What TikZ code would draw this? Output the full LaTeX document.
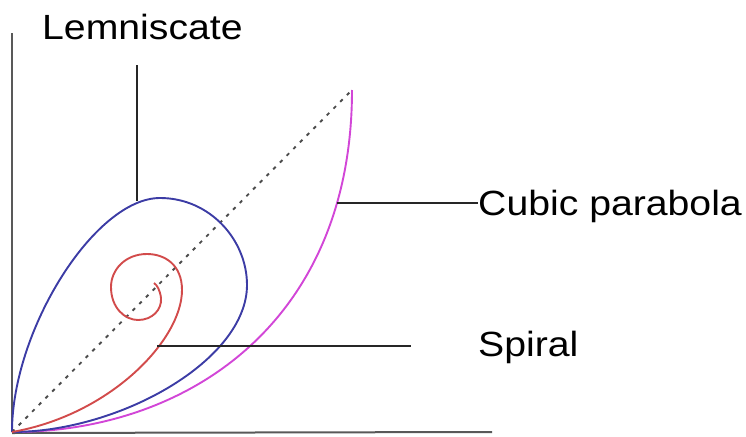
\documentclass[tikz,border=0pt]{standalone}
\usepackage{fontspec}
\newfontfamily\labelfont{Liberation Sans}[FakeStretch=1.12]
\begin{document}
\begin{tikzpicture}[x=1pt,y=-1pt,
  axis/.style={draw=black!65,line width=2pt},
  leader/.style={draw=black!85,line width=1.4pt},
  curvelem/.style={draw={rgb,255:red,60;green,60;blue,165},line width=1.9pt},
  curvespi/.style={draw={rgb,255:red,210;green,75;blue,75},line width=1.9pt},
  curvecub/.style={draw={rgb,255:red,210;green,70;blue,215},line width=1.9pt},
  lbl/.style={font=\labelfont\fontsize{35}{40}\selectfont,inner sep=0pt,anchor=base west}]
\useasboundingbox (0,0) rectangle (746,436);
% axes
\coordinate (O) at (12,432);
\coordinate (ytop) at (12,33);
\coordinate (xend) at (492,432);
\draw[axis] (O) -- (ytop);
\draw[axis] (12,433) -- (xend);
% diagonal
\coordinate (tip) at (352,90);
\draw[black!70,line width=1.9pt,dash pattern=on 3.5pt off 6pt] (O) -- (tip);
% cubic parabola
\draw[curvecub] (O) .. controls (190,432) and (352,320) .. (tip);
% lemniscate
\draw[curvelem] (O) .. controls (12,330) and (95,198) .. (160,198)
  .. controls (210,198) and (247,240) .. (247,285)
  .. controls (247,360) and (120,432) .. (O);
% spiral
\draw[curvespi] (O) .. controls (110,415) and (182,340) .. (182,290)
  .. controls (182,265) and (165,254) .. (147,254)
  .. controls (125,254) and (111,270) .. (111,287)
  .. controls (111,308) and (125,320) .. (138,320)
  .. controls (152,320) and (162,310) .. (161,298)
  .. controls (160,290) and (157,285) .. (154,283);
% labels
\node[lbl] (lemlabel) at (42,40) {Lemniscate};
\node[lbl] (cublabel) at (478,215) {Cubic parabola};
\node[lbl] (spilabel) at (478,356) {Spiral};
\coordinate (lempt) at (137,201);
\coordinate (lemend) at (137,65);
\coordinate (cubpt) at (337,203);
\coordinate (spipt) at (157,346);
\coordinate (spiend) at (411,346);
\draw[leader] (lempt) -- (lemend);
\draw[leader] (cubpt) -- (cubpt -| cublabel.west);
\draw[leader] (spipt) -- (spiend);
\end{tikzpicture}
\end{document}
